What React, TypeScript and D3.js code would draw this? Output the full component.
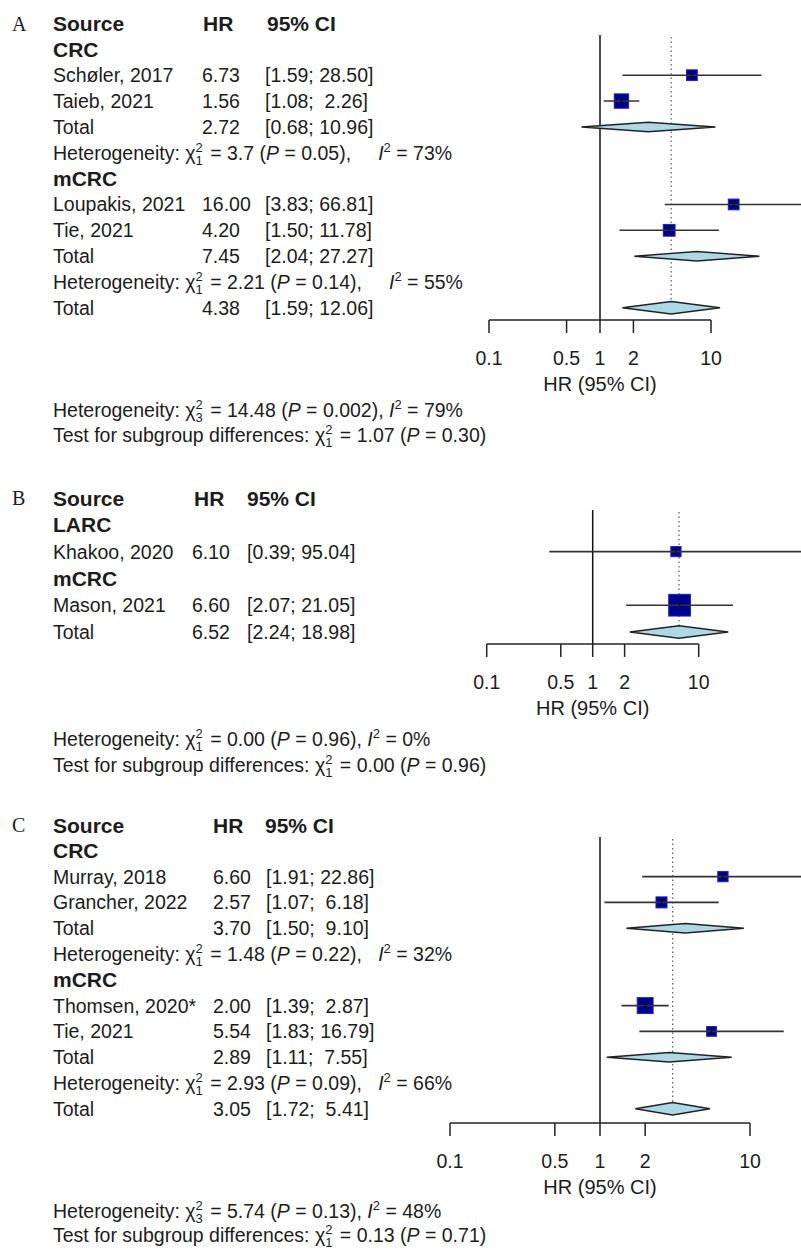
import React from "react";
import * as d3 from "d3";

// ---- data ----
const hrTicks = [0.1, 0.5, 1, 2, 10];

const studiesA = [
  { group: "CRC", source: "Schøler, 2017", hr: 6.73, lo: 1.59, hi: 28.5, weight: 20.0 },
  { group: "CRC", source: "Taieb, 2021", hr: 1.56, lo: 1.08, hi: 2.26, weight: 35.8 },
  { group: "mCRC", source: "Loupakis, 2021", hr: 16.0, lo: 3.83, hi: 66.81, weight: 20.1 },
  { group: "mCRC", source: "Tie, 2021", hr: 4.2, lo: 1.5, hi: 11.78, weight: 24.1 },
];
const subgroupsA = [
  { group: "CRC", hr: 2.72, lo: 0.68, hi: 10.96, q: "3.7", df: 1, p: "0.05", i2: 73 },
  { group: "mCRC", hr: 7.45, lo: 2.04, hi: 27.27, q: "2.21", df: 1, p: "0.14", i2: 55 },
];
const overallA = { hr: 4.38, lo: 1.59, hi: 12.06, q: "14.48", df: 3, p: "0.002", i2: 79, qb: "1.07", dfb: 1, pb: "0.30" };

const studiesB = [
  { group: "LARC", source: "Khakoo, 2020", hr: 6.1, lo: 0.39, hi: 95.04, weight: 18 },
  { group: "mCRC", source: "Mason, 2021", hr: 6.6, lo: 2.07, hi: 21.05, weight: 82 },
];
const subgroupsB: any[] = [];
const overallB = { hr: 6.52, lo: 2.24, hi: 18.98, q: "0.00", df: 1, p: "0.96", i2: 0, qb: "0.00", dfb: 1, pb: "0.96" };

const studiesC = [
  { group: "CRC", source: "Murray, 2018", hr: 6.6, lo: 1.91, hi: 22.86, weight: 18.4 },
  { group: "CRC", source: "Grancher, 2022", hr: 2.57, lo: 1.07, hi: 6.18, weight: 21.0 },
  { group: "mCRC", source: "Thomsen, 2020*", hr: 2.0, lo: 1.39, hi: 2.87, weight: 44.0 },
  { group: "mCRC", source: "Tie, 2021", hr: 5.54, lo: 1.83, hi: 16.79, weight: 16.6 },
];
const subgroupsC = [
  { group: "CRC", hr: 3.7, lo: 1.5, hi: 9.1, q: "1.48", df: 1, p: "0.22", i2: 32 },
  { group: "mCRC", hr: 2.89, lo: 1.11, hi: 7.55, q: "2.93", df: 1, p: "0.09", i2: 66 },
];
const overallC = { hr: 3.05, lo: 1.72, hi: 5.41, q: "5.74", df: 3, p: "0.13", i2: 48, qb: "0.13", dfb: 1, pb: "0.71" };

// ---- drawing ----
const SANS = "'Liberation Sans', Arial, Helvetica, sans-serif";
const FS = 19.5;
const SUP = 13;
const SUPW = 0.556 * SUP;
const TXT = "#1c1c1c";
const NB = "\u00A0";

const fmt = d3.format(".2f");
const sizeScale = d3.scaleSqrt().domain([0, 100]).range([0, 24]);

const ciText = (lo, hi) => `[${fmt(lo)};${NB}${fmt(hi).padStart(5, NB)}]`;

function StatText({ x, y, prefix, q, df, p, i2, gap = 1 }: any) {
  return (
    <text x={x} y={y} fontSize={FS} fill={TXT}>
      {prefix.replace(/ /g, NB) + "χ"}
      <tspan fontSize={SUP} dy={-8}>2</tspan>
      <tspan fontSize={SUP} dx={-SUPW} dy={13}>{String(df)}</tspan>
      <tspan dx={2} dy={-5}>{`${NB}=${NB}${q}${NB}(`}</tspan>
      <tspan fontStyle="italic">P</tspan>
      <tspan>{`${NB}=${NB}${p})`}</tspan>
      {i2 !== undefined && <tspan>{"," + NB.repeat(gap)}</tspan>}
      {i2 !== undefined && <tspan fontStyle="italic">I</tspan>}
      {i2 !== undefined && <tspan fontSize={SUP} dy={-8}>2</tspan>}
      {i2 !== undefined && <tspan dy={8}>{`${NB}=${NB}${i2}%`}</tspan>}
    </text>
  );
}

function Panel({ letter, studies, subgroups, overall, L }: any) {
  const x = d3.scaleLog().domain([0.1, 10]).range([L.x1 - L.dec, L.x1 + L.dec]);
  const groups = Array.from(new Set(studies.map(d => d.group)));

  const rows: any[] = [{ type: "header" }];
  groups.forEach(g => {
    rows.push({ type: "group", label: g });
    studies.filter(d => d.group === g).forEach(d => rows.push({ type: "study", d }));
    const sub = subgroups.find(s => s.group === g);
    if (sub) {
      rows.push({ type: "sub", d: sub });
      rows.push({ type: "het", d: sub });
    }
  });
  rows.push({ type: "total", d: overall });
  const yOf = i => L.top + i * L.step;
  const totalY = yOf(rows.length - 1);

  const diamond = (d, y, h) =>
    `M${x(d.lo)},${y}L${x(d.hr)},${y - h / 2}L${x(d.hi)},${y}L${x(d.hr)},${y + h / 2}Z`;

  return (
    <g fontFamily={SANS}>
      <text x={12} y={L.top + 7} fontFamily="'Liberation Serif', 'Times New Roman', serif" fontSize={20} fill={TXT}>
        {letter}
      </text>

      {/* reference lines */}
      <line x1={L.x1} x2={L.x1} y1={L.vTop} y2={L.axisY} stroke="#111" strokeWidth={1.5} />
      <line x1={x(overall.hr)} x2={x(overall.hr)} y1={L.vTop + 2} y2={totalY} stroke="#666" strokeWidth={1.3} strokeDasharray="1.5,3" />

      {rows.map((r, i) => {
        const y = yOf(i);
        if (r.type === "header")
          return (
            <g key={i} fontWeight="bold" fontSize={21} fill={TXT}>
              <text x={53} y={y + 7.5}>Source</text>
              <text x={L.headHR} y={y + 7.5}>HR</text>
              <text x={L.headCI} y={y + 7.5}>{`95%${NB}CI`}</text>
            </g>
          );
        if (r.type === "group")
          return (
            <text key={i} x={53} y={y + 7.5} fontWeight="bold" fontSize={21} fill={TXT}>
              {r.label}
            </text>
          );
        if (r.type === "het")
          return <StatText key={i} x={53} y={y + 7} prefix="Heterogeneity: " q={r.d.q} df={r.d.df} p={r.d.p} i2={r.d.i2} gap={L.gap} />;
        const d = r.d;
        const label = r.type === "study" ? d.source : "Total";
        const s = r.type === "study" ? sizeScale(d.weight) : 0;
        const h = r.type === "total" ? 12.5 : 9.5;
        return (
          <g key={i}>
            <g fontSize={FS} fill={TXT}>
              <text x={53} y={y + 7}>{label}</text>
              <text x={L.hrX} y={y + 7}>{fmt(d.hr)}</text>
              <text x={L.ciX} y={y + 7}>{ciText(d.lo, d.hi)}</text>
            </g>
            {r.type === "study" ? (
              <g>
                <rect x={x(d.hr) - s / 2} y={y - s / 2} width={s} height={s} fill="#00008b" stroke="#1f1fd0" strokeWidth={1} />
                <line x1={x(d.lo)} x2={x(d.hi)} y1={y} y2={y} stroke="#333" strokeWidth={1.6} />
                <line x1={x(d.hr)} x2={x(d.hr)} y1={y - 3} y2={y + 3} stroke="#111" strokeWidth={1.2} />
              </g>
            ) : (
              <path d={diamond(d, y, h)} fill="#add8e6" stroke="#222" strokeWidth={1.5} />
            )}
          </g>
        );
      })}

      {/* axis */}
      <line x1={x(0.1)} x2={x(10)} y1={L.axisY} y2={L.axisY} stroke="#222" strokeWidth={1.5} />
      {hrTicks.map(t => (
        <g key={t}>
          <line x1={x(t)} x2={x(t)} y1={L.axisY} y2={L.axisY + 13} stroke="#222" strokeWidth={1.5} />
          <text x={x(t)} y={L.axisY + 45} textAnchor="middle" fontSize={FS} fill={TXT}>
            {String(t)}
          </text>
        </g>
      ))}
      <text x={L.x1} y={L.axisY + 71} textAnchor="middle" fontSize={20} fill={TXT}>
        {`HR${NB}(95%${NB}CI)`}
      </text>

      <StatText x={53} y={L.bot1} prefix="Heterogeneity: " q={overall.q} df={overall.df} p={overall.p} i2={overall.i2} />
      <StatText x={53} y={L.bot2} prefix="Test for subgroup differences: " q={overall.qb} df={overall.dfb} p={overall.pb} />
    </g>
  );
}

const layoutA = { top: 23.5, step: 25.85, x1: 600, dec: 111, axisY: 320, vTop: 35, hrX: 202, ciX: 265, headHR: 203, headCI: 267, bot1: 417, bot2: 442, gap: 5 };
const layoutB = { top: 498, step: 26.8, x1: 592.7, dec: 106, axisY: 644, vTop: 510, hrX: 192, ciX: 247, headHR: 194, headCI: 247, bot1: 746, bot2: 772, gap: 3 };
const layoutC = { top: 825, step: 25.8, x1: 600, dec: 150, axisY: 1123, vTop: 837, hrX: 213, ciX: 266, headHR: 213, headCI: 265, bot1: 1218, bot2: 1242, gap: 3 };

export default function App() {
  return (
    <svg width={801} height={1251} style={{ position: "absolute", left: 0, top: 0, background: "#fff" }}>
      <rect width={801} height={1251} fill="#fff" />
      <Panel letter="A" studies={studiesA} subgroups={subgroupsA} overall={overallA} L={layoutA} />
      <Panel letter="B" studies={studiesB} subgroups={subgroupsB} overall={overallB} L={layoutB} />
      <Panel letter="C" studies={studiesC} subgroups={subgroupsC} overall={overallC} L={layoutC} />
    </svg>
  );
}
